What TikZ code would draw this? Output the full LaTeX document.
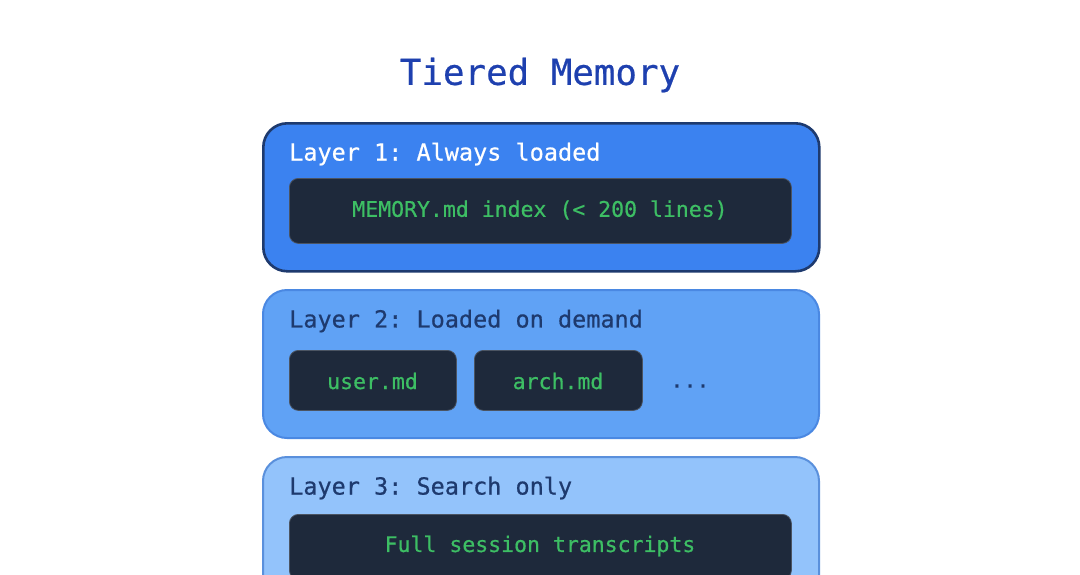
\documentclass[tikz,border=0pt]{standalone}
\usepackage{fontspec}
\setmonofont{DejaVu Sans Mono}
\newfontfamily\medmono[FakeBold=0.6,WordSpace={1,0,0},PunctuationSpace=WordSpace]{DejaVu Sans Mono}
\definecolor{titleblue}{HTML}{1E40AF}
\definecolor{navy}{HTML}{1E3A6E}
\definecolor{lone}{HTML}{3B82F0}
\definecolor{ltwo}{HTML}{60A2F5}
\definecolor{ltwob}{HTML}{4A88E2}
\definecolor{lthree}{HTML}{93C3FB}
\definecolor{lthreeb}{HTML}{5A90DC}
\definecolor{slate}{HTML}{1E293B}
\definecolor{codegreen}{HTML}{3DBE64}
\tikzset{
  layerbox/.style={rectangle, rounded corners=24pt, minimum width=556pt, minimum height=148pt, anchor=north west, inner sep=0pt},
  filebox/.style={rectangle, rounded corners=9pt, fill=slate, draw=slate!80!white, line width=0.8pt, anchor=north west, inner sep=0pt},
  codetext/.style={text=codegreen, inner sep=0pt, font=\medmono\fontsize{21.5}{26}\selectfont},
  layertitle/.style={anchor=west, inner sep=0pt, font=\medmono\fontsize{23.5}{28}\selectfont},
}
\begin{document}
\frenchspacing
\begin{tikzpicture}[x=1pt,y=-1pt]
\useasboundingbox (0,0) rectangle (1080,574);
\clip (0,0) rectangle (1080,574);
\fill[white] (0,0) rectangle (1080,574);
\node[inner sep=0pt, text=titleblue, font=\medmono\fontsize{35.8}{40}\selectfont] (title) at (540,75) {Tiered Memory};
% Layer 1
\node[layerbox, fill=lone, draw=navy, line width=2.6pt] (l1) at (262,122) {};
\node[layertitle, text=white] (l1t) at (289,154) {Layer 1: Always loaded};
\node[filebox, minimum width=502pt, minimum height=65pt] (f1) at (289,178) {};
\node[codetext] (f1t) at (540,210) {MEMORY.md index (< 200 lines)};
% Layer 2
\node[layerbox, fill=ltwo, draw=ltwob, line width=2pt] (l2) at (262,289) {};
\node[layertitle, text=navy] (l2t) at (289,321) {Layer 2: Loaded on demand};
\node[filebox, minimum width=167pt, minimum height=60pt] (f2) at (289,350) {};
\node[codetext] (f2t) at (372.5,381) {user.md};
\node[filebox, minimum width=168pt, minimum height=60pt] (f3) at (474,350) {};
\node[codetext] (f3t) at (558,381) {arch.md};
\node[text=navy, inner sep=0pt, font=\medmono\fontsize{21.5}{26}\selectfont] (dots) at (690,386) {...};
% Layer 3
\node[layerbox, fill=lthree, draw=lthreeb, line width=2pt] (l3) at (262,456) {};
\node[layertitle, text=navy] (l3t) at (289,488) {Layer 3: Search only};
\node[filebox, minimum width=502pt, minimum height=65pt] (f4) at (289,514) {};
\node[codetext] (f4t) at (540,546) {Full session transcripts};
\end{tikzpicture}
\end{document}
